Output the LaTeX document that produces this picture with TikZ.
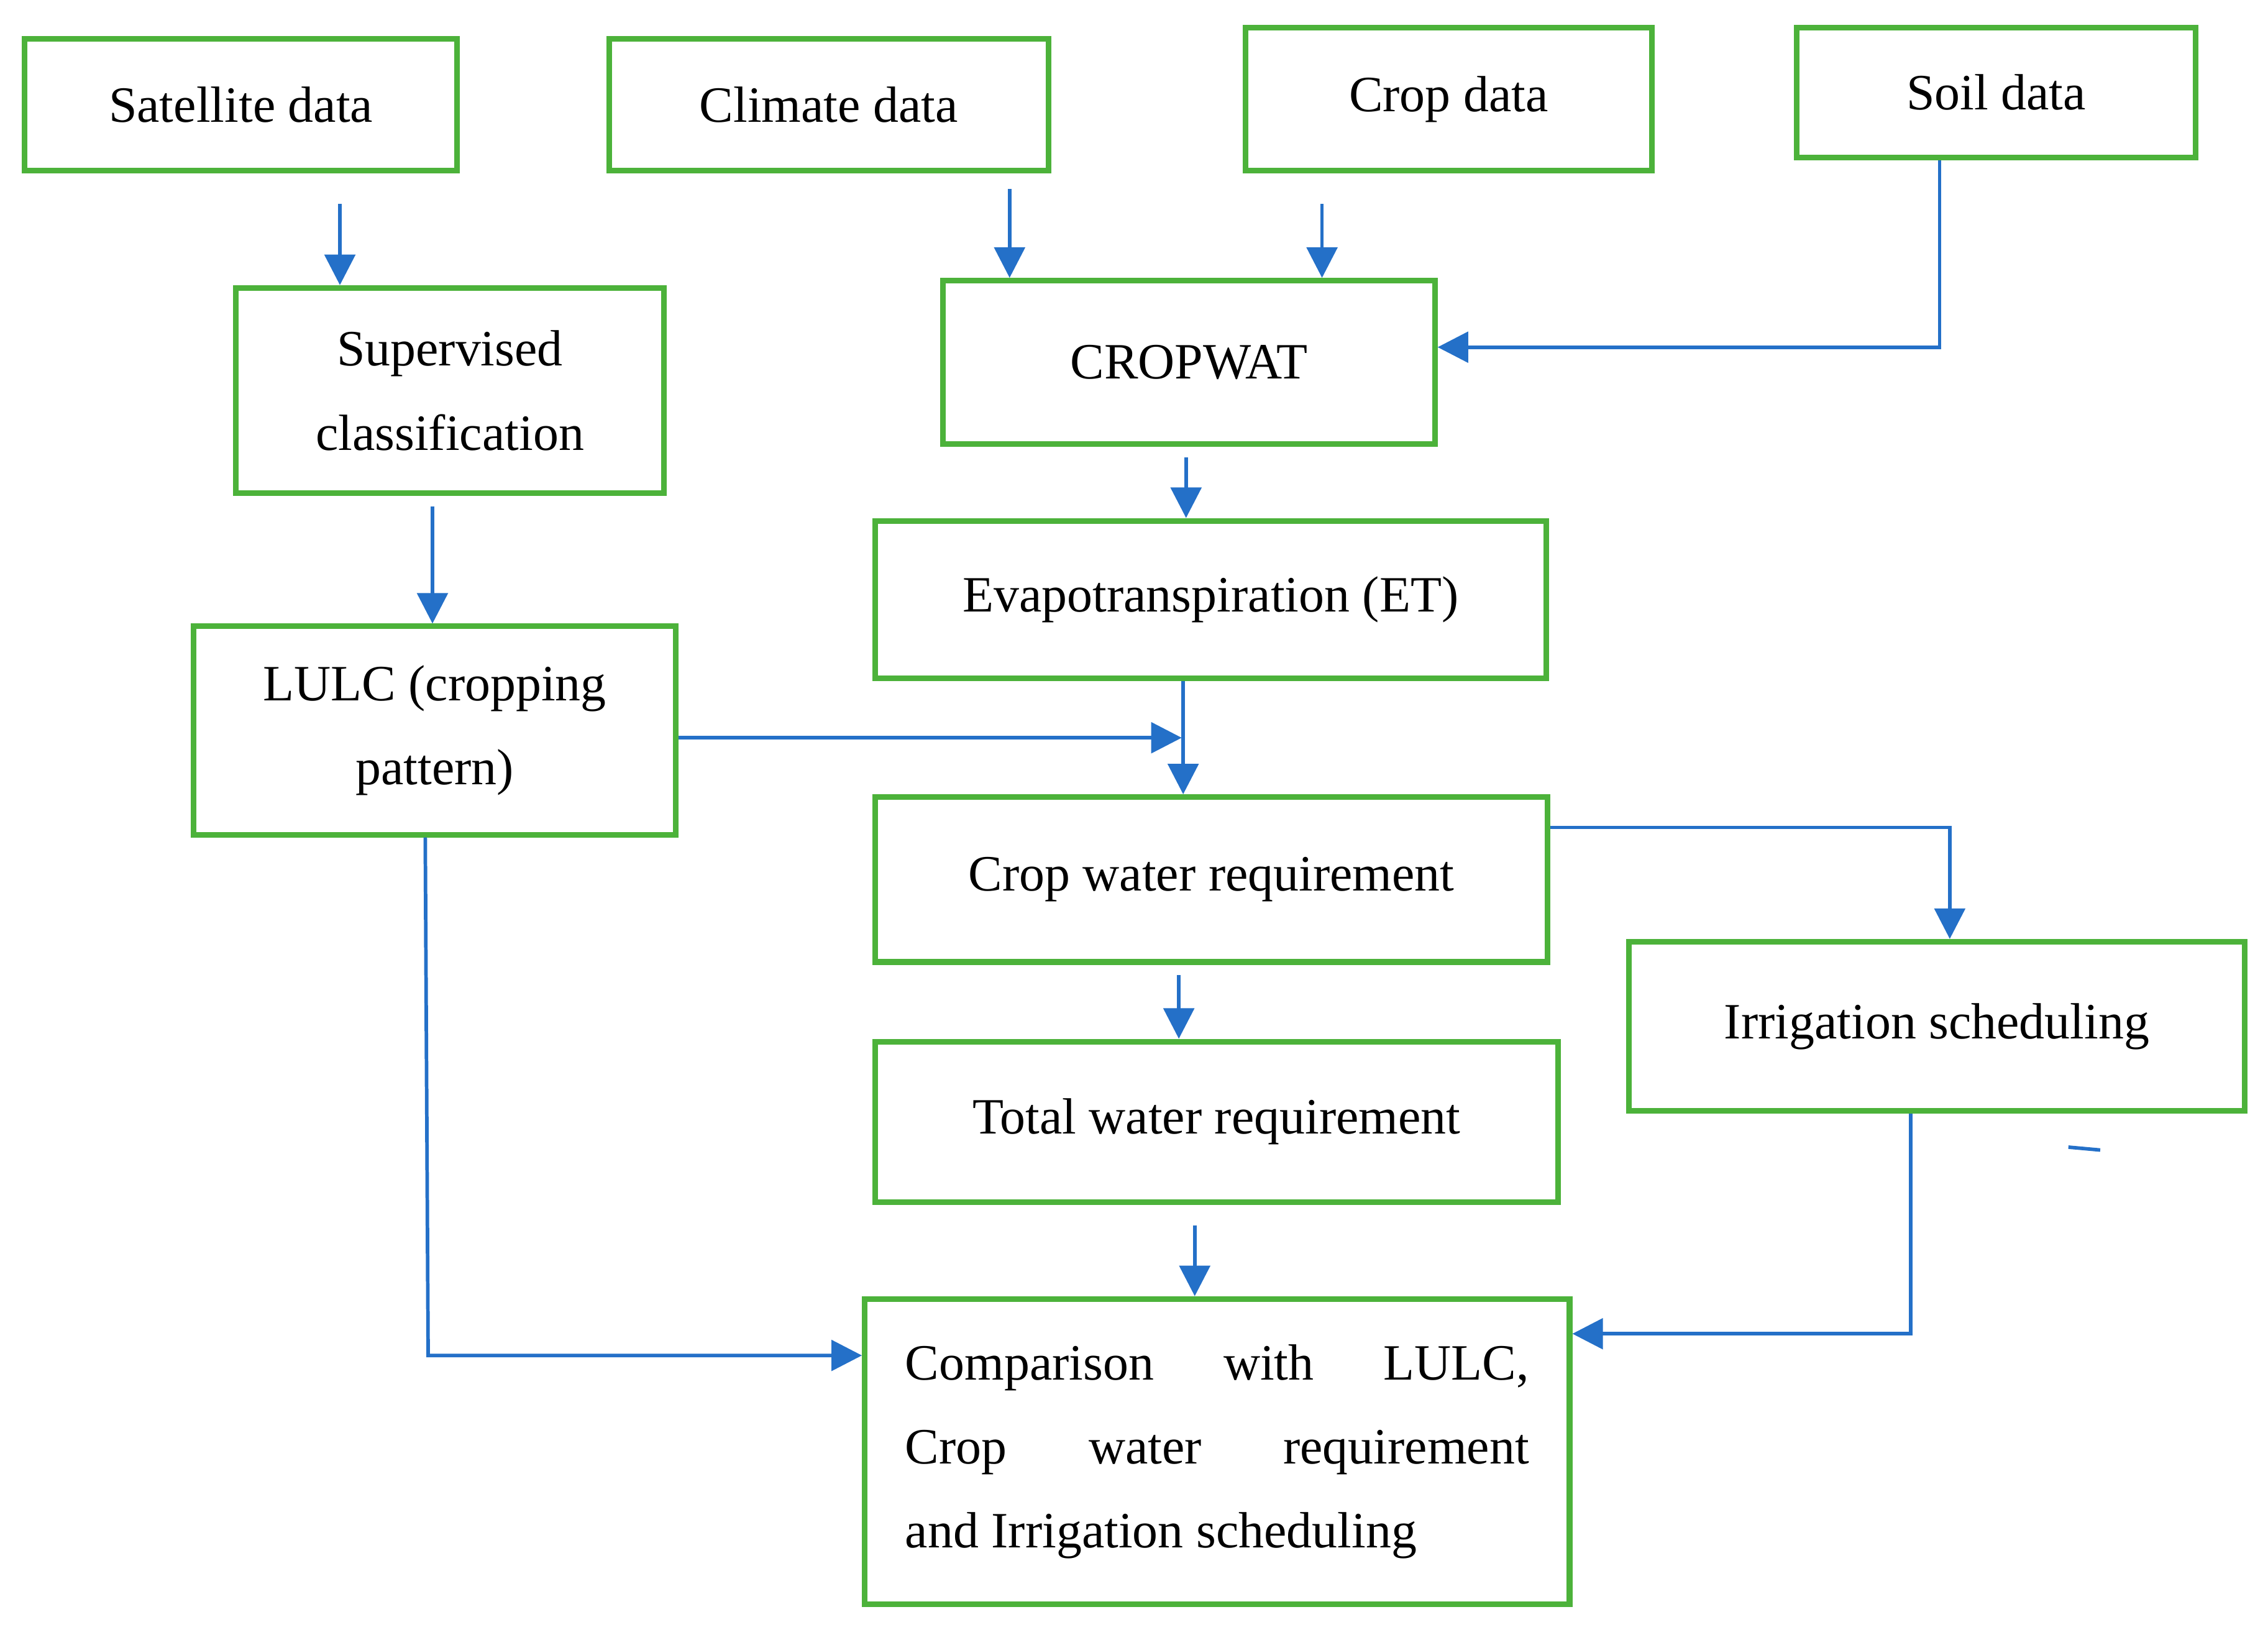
\documentclass[tikz,border=0pt]{standalone}
\usepackage{fontspec}
\setmainfont{Liberation Serif}
\usetikzlibrary{arrows.meta}
\definecolor{gbox}{RGB}{76,178,58}
\definecolor{barr}{RGB}{36,112,200}
\tikzset{
 box/.style={draw=gbox,line width=1.1pt,inner sep=0pt,align=center,font=\fontsize{10}{16.5}\selectfont},
 arr/.style={draw=barr,line width=0.7pt,-{Triangle[length=6pt,width=6pt]}},
 ln/.style={draw=barr,line width=0.7pt}
}
\newcommand\bx[6]{\node[box,minimum width={(#4-#2)*0.01cm},minimum height={(#5-#3)*0.01cm}] (#1) at ({(#2+#4)/2},{(#3+#5)/2}) {#6};}
\begin{document}
\begin{tikzpicture}[x=0.01cm,y=-0.01cm]
\useasboundingbox (0,0) rectangle (1568,1130);
\bx{sat}{17}{27}{316}{118}{Satellite data}
\bx{cli}{421}{27}{725}{118}{Climate data}
\bx{crop}{861}{19}{1142}{118}{Crop data}
\bx{soil}{1242}{19}{1518}{109}{Soil data}
\bx{sup}{163}{199}{459}{341}{Supervised\\classification}
\bx{cw}{652}{194}{992}{307}{CROPWAT}
\bx{et}{605}{360}{1069}{469}{Evapotranspiration (ET)}
\bx{lulc}{134}{433}{467}{577}{LULC (cropping\\pattern)}
\bx{cwr}{605}{551}{1070}{665}{Crop water requirement}
\bx{irr}{1126}{651}{1552}{768}{Irrigation scheduling}
\bx{tot}{605}{720}{1077}{831}{Total water requirement}
\node[box,minimum width=4.87cm,minimum height=2.11cm] (cmp) at (841.5,1003.5)
 {\parbox{4.31cm}{Comparison\hfill with\hfill LULC,\\Crop\hfill water\hfill requirement\\and Irrigation scheduling}};
\coordinate (j1) at (817,510);
\draw[arr,shorten <=6pt] (sat.south -| 235,0) -- (sup.north -| 235,0);
\draw[arr,shorten <=3pt] (cli.south -| 698,0) -- (cw.north -| 698,0);
\draw[arr,shorten <=6pt] (crop.south -| 914,0) -- (cw.north -| 914,0);
\draw[arr] (soil.south -| 1341,0) -- (1341,240) -- (cw.east |- 0,240);
\draw[arr,shorten <=2pt] (cw.south -| 820,0) -- (et.north -| 820,0);
\draw[arr,shorten <=2pt] (sup.south -| 299,0) -- (lulc.north -| 299,0);
\draw[arr] (lulc.east |- j1) -- (j1);
\draw[arr] (et.south -| 818,0) -- (cwr.north -| 818,0);
\draw[arr] (cwr.east |- 0,572) -- (1348,572) -- (irr.north -| 1348,0);
\draw[arr,shorten <=2pt] (cwr.south -| 815,0) -- (tot.north -| 815,0);
\draw[arr,shorten <=4pt] (tot.south -| 826,0) -- (cmp.north -| 826,0);
\draw[arr] (lulc.south -| 294,0) -- (296,937) -- (cmp.west |- 0,937);
\draw[arr] (irr.south -| 1321,0) -- (1321,922) -- (cmp.east |- 0,922);
\coordinate (d1) at (1430,793); \coordinate (d2) at (1452,795);
\draw[ln] (d1) -- (d2);
\end{tikzpicture}
\end{document}
